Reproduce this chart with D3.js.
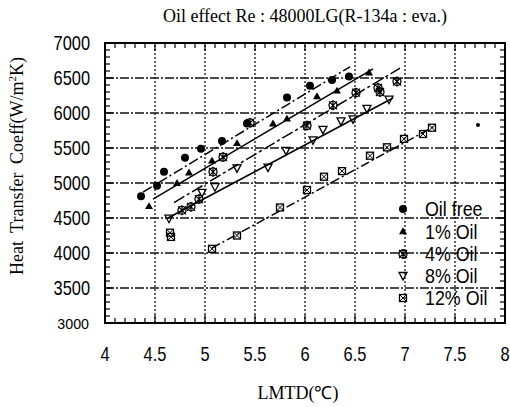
<!DOCTYPE html>
<html><head><meta charset="utf-8">
<script src="https://cdn.jsdelivr.net/npm/d3@7"></script>
<style>
body{margin:0;background:#fff;}
svg{display:block;}
</style></head>
<body>
<svg id="c" width="510" height="407"></svg>
<script>
// ---- data ----
const xTicks = [4, 4.5, 5, 5.5, 6, 6.5, 7, 7.5, 8];
const yTicks = [3000, 3500, 4000, 4500, 5000, 5500, 6000, 6500, 7000];
const seriesNames = ["Oil free", "1% Oil", "4% Oil", "8% Oil", "12% Oil"];

const oilFree = [[4.36,4810],[4.52,4960],[4.59,5160],[4.80,5360],[4.96,5490],[5.17,5600],[5.42,5850],[5.82,6220],[6.05,6390],[6.27,6470],[6.44,6520]];
const oil1 = [[4.44,4660],[4.72,4990],[4.84,5140],[5.07,5310],[5.32,5560],[5.68,5840],[5.82,5910],[6.12,6230],[6.32,6310],[6.64,6570]];
const oil4 = [[4.77,4610],[4.86,4660],[4.94,4770],[5.08,5160],[5.18,5370],[5.45,5860],[6.02,5820],[6.28,6110],[6.51,6290],[6.73,6360],[6.75,6300],[6.92,6450]];
const oil8 = [[4.64,4490],[4.97,4860],[5.10,4940],[5.32,5210],[5.63,5220],[5.81,5460],[6.08,5610],[6.18,5760],[6.36,5880],[6.48,5910],[6.62,6060],[6.84,6190]];
const oil12 = [[4.65,4290],[4.66,4230],[5.07,4060],[5.32,4250],[5.75,4650],[6.02,4900],[6.19,5090],[6.37,5170],[6.65,5390],[6.82,5510],[6.99,5630],[7.18,5700],[7.27,5790]];
const strayPoint = [[7.73,5830]];

// fitted trend lines: [start, end]
const fitOilFree = [[4.38,4870],[6.45,6660]];
const fit1 = [[4.48,4770],[6.68,6630]];
const fit4 = [[4.69,4720],[6.95,6640]];
const fit8 = [[4.63,4500],[6.88,6214]];
const fit12 = [[5.07,4071],[7.28,5800]];

// ---- chart ----
const svg = d3.select("#c");
const x = d3.scaleLinear().domain([4,8]).range([105,505]);
const y = d3.scaleLinear().domain([3000,7000]).range([323,43]);
const sans = "'Liberation Sans',Arial,sans-serif";
const serif = "'Liberation Serif','Times New Roman',serif";
const NARROW = 0.82;

// grid
svg.append("g").selectAll("line").data(yTicks.slice(1,-1)).join("line")
  .attr("x1",x(4)).attr("x2",x(8)).attr("y1",d=>y(d)).attr("y2",d=>y(d))
  .attr("stroke","#111").attr("stroke-width",1.4).attr("stroke-dasharray","9,2,2,2");
svg.append("g").selectAll("line").data(xTicks.slice(1,-1)).join("line")
  .attr("y1",y(3000)).attr("y2",y(7000)).attr("x1",d=>x(d)).attr("x2",d=>x(d))
  .attr("stroke","#111").attr("stroke-width",1.3).attr("stroke-dasharray","2,2");

// minor/major ticks on all sides
const xMinor = d3.range(40,81).map(d=>d/10);
const yMinor = d3.range(30,71).map(d=>d*100);
const tg = svg.append("g").attr("stroke","#000").attr("stroke-width",1.2);
xMinor.forEach(v=>{
  const major = Math.abs(v*2-Math.round(v*2))<1e-6;
  const L = major?8:5;
  tg.append("line").attr("x1",x(v)).attr("x2",x(v)).attr("y1",y(3000)).attr("y2",y(3000)-L);
  tg.append("line").attr("x1",x(v)).attr("x2",x(v)).attr("y1",y(7000)).attr("y2",y(7000)+L);
});
yMinor.forEach(v=>{
  const major = v%500===0;
  const L = major?8:5;
  tg.append("line").attr("y1",y(v)).attr("y2",y(v)).attr("x1",x(4)).attr("x2",x(4)+L);
  tg.append("line").attr("y1",y(v)).attr("y2",y(v)).attr("x1",x(8)).attr("x2",x(8)-L);
});

// frame
svg.append("rect").attr("x",x(4)).attr("y",y(7000)).attr("width",x(8)-x(4)).attr("height",y(3000)-y(7000))
  .attr("fill","none").attr("stroke","#000").attr("stroke-width",2);

// tick labels (condensed sans)
svg.append("g").selectAll("text").data(xTicks).join("text")
  .attr("transform",d=>`translate(${x(d)},361) scale(${NARROW},1)`).attr("text-anchor","middle")
  .attr("font-family",sans).attr("font-size",20).text(d=>d);
svg.append("g").selectAll("text").data(yTicks).join("text")
  .attr("transform",d=>d===3000?`translate(89,${y(d)+6}) scale(0.95,1)`:`translate(90,${y(d)+7}) scale(${NARROW},1)`)
  .attr("text-anchor","end")
  .attr("font-family",sans)
  .attr("font-size",d=>d===3000?15:20).text(d=>d);

// titles
svg.append("text").attr("x",305).attr("y",22).attr("text-anchor","middle")
  .attr("font-family",serif).attr("font-size",18).text("Oil effect Re : 48000LG(R-134a : eva.)");
svg.append("text").attr("x",298).attr("y",399).attr("text-anchor","middle")
  .attr("font-family",serif).attr("font-size",18).text("LMTD(℃)");
const yl = svg.append("text").attr("transform","translate(23,166) rotate(-90)").attr("text-anchor","middle")
  .attr("font-family",serif).attr("font-size",18).attr("word-spacing",4);
yl.append("tspan").text("Heat Transfer Coeff(W/m");
yl.append("tspan").attr("font-size",11).attr("dy",-7).text("2");
yl.append("tspan").attr("dy",7).text("K)");

// fit lines
const fits = [
  {d:fitOilFree, dash:"10,3,2,3", w:1.5},
  {d:fit1, dash:null, w:1.5},
  {d:fit4, dash:"12,3,3,3", w:1.5},
  {d:fit8, dash:null, w:1.5},
  {d:fit12, dash:"9,3,2,3", w:1.5}
];
const lineGen = d3.line().x(d=>x(d[0])).y(d=>y(d[1]));
fits.forEach(f=>{
  svg.append("path").attr("d",lineGen(f.d)).attr("fill","none").attr("stroke","#000")
    .attr("stroke-width",f.w).attr("stroke-dasharray",f.dash);
});

// markers
function marker(g, type, cx, cy){
  if(type===0){
    g.append("circle").attr("cx",cx).attr("cy",cy).attr("r",4).attr("fill","#000");
  } else if(type===1){
    g.append("path").attr("d",d3.symbol(d3.symbolTriangle,28)()).attr("transform",`translate(${cx},${cy})`).attr("fill","#000");
  } else if(type===2){
    g.append("circle").attr("cx",cx).attr("cy",cy).attr("r",4).attr("fill","none").attr("stroke","#000").attr("stroke-width",1.3);
    g.append("path").attr("d",`M${cx-4},${cy-4}L${cx+4},${cy+4}M${cx+4},${cy-4}L${cx-4},${cy+4}M${cx},${cy-5}L${cx},${cy+5}`).attr("stroke","#000").attr("stroke-width",1.2);
  } else if(type===3){
    g.append("path").attr("d",`M${cx-4},${cy-3.5}L${cx+4},${cy-3.5}L${cx},${cy+4}Z`).attr("fill","none").attr("stroke","#000").attr("stroke-width",1.3);
  } else {
    g.append("rect").attr("x",cx-3.5).attr("y",cy-3.5).attr("width",7).attr("height",7).attr("fill","none").attr("stroke","#000").attr("stroke-width",1.3);
    g.append("path").attr("d",`M${cx-3.5},${cy-3.5}L${cx+3.5},${cy+3.5}M${cx+3.5},${cy-3.5}L${cx-3.5},${cy+3.5}`).attr("stroke","#000").attr("stroke-width",1);
  }
}
const allSeries = [oilFree, oil1, oil4, oil8, oil12];
const mg = svg.append("g");
allSeries.forEach((s,i)=>s.forEach(p=>marker(mg,i,x(p[0]),y(p[1]))));
strayPoint.forEach(p=>mg.append("circle").attr("cx",x(p[0])).attr("cy",y(p[1])).attr("r",2).attr("fill","#000"));

// legend
const legendY = [209, 232, 254, 276, 298];
seriesNames.forEach((n,i)=>{
  marker(mg,i,403,legendY[i]);
  svg.append("text").attr("transform",`translate(425,${legendY[i]+7}) scale(0.85,1)`).attr("font-family",sans)
    .attr("font-size",21).text(n);
});
</script>
</body></html>
